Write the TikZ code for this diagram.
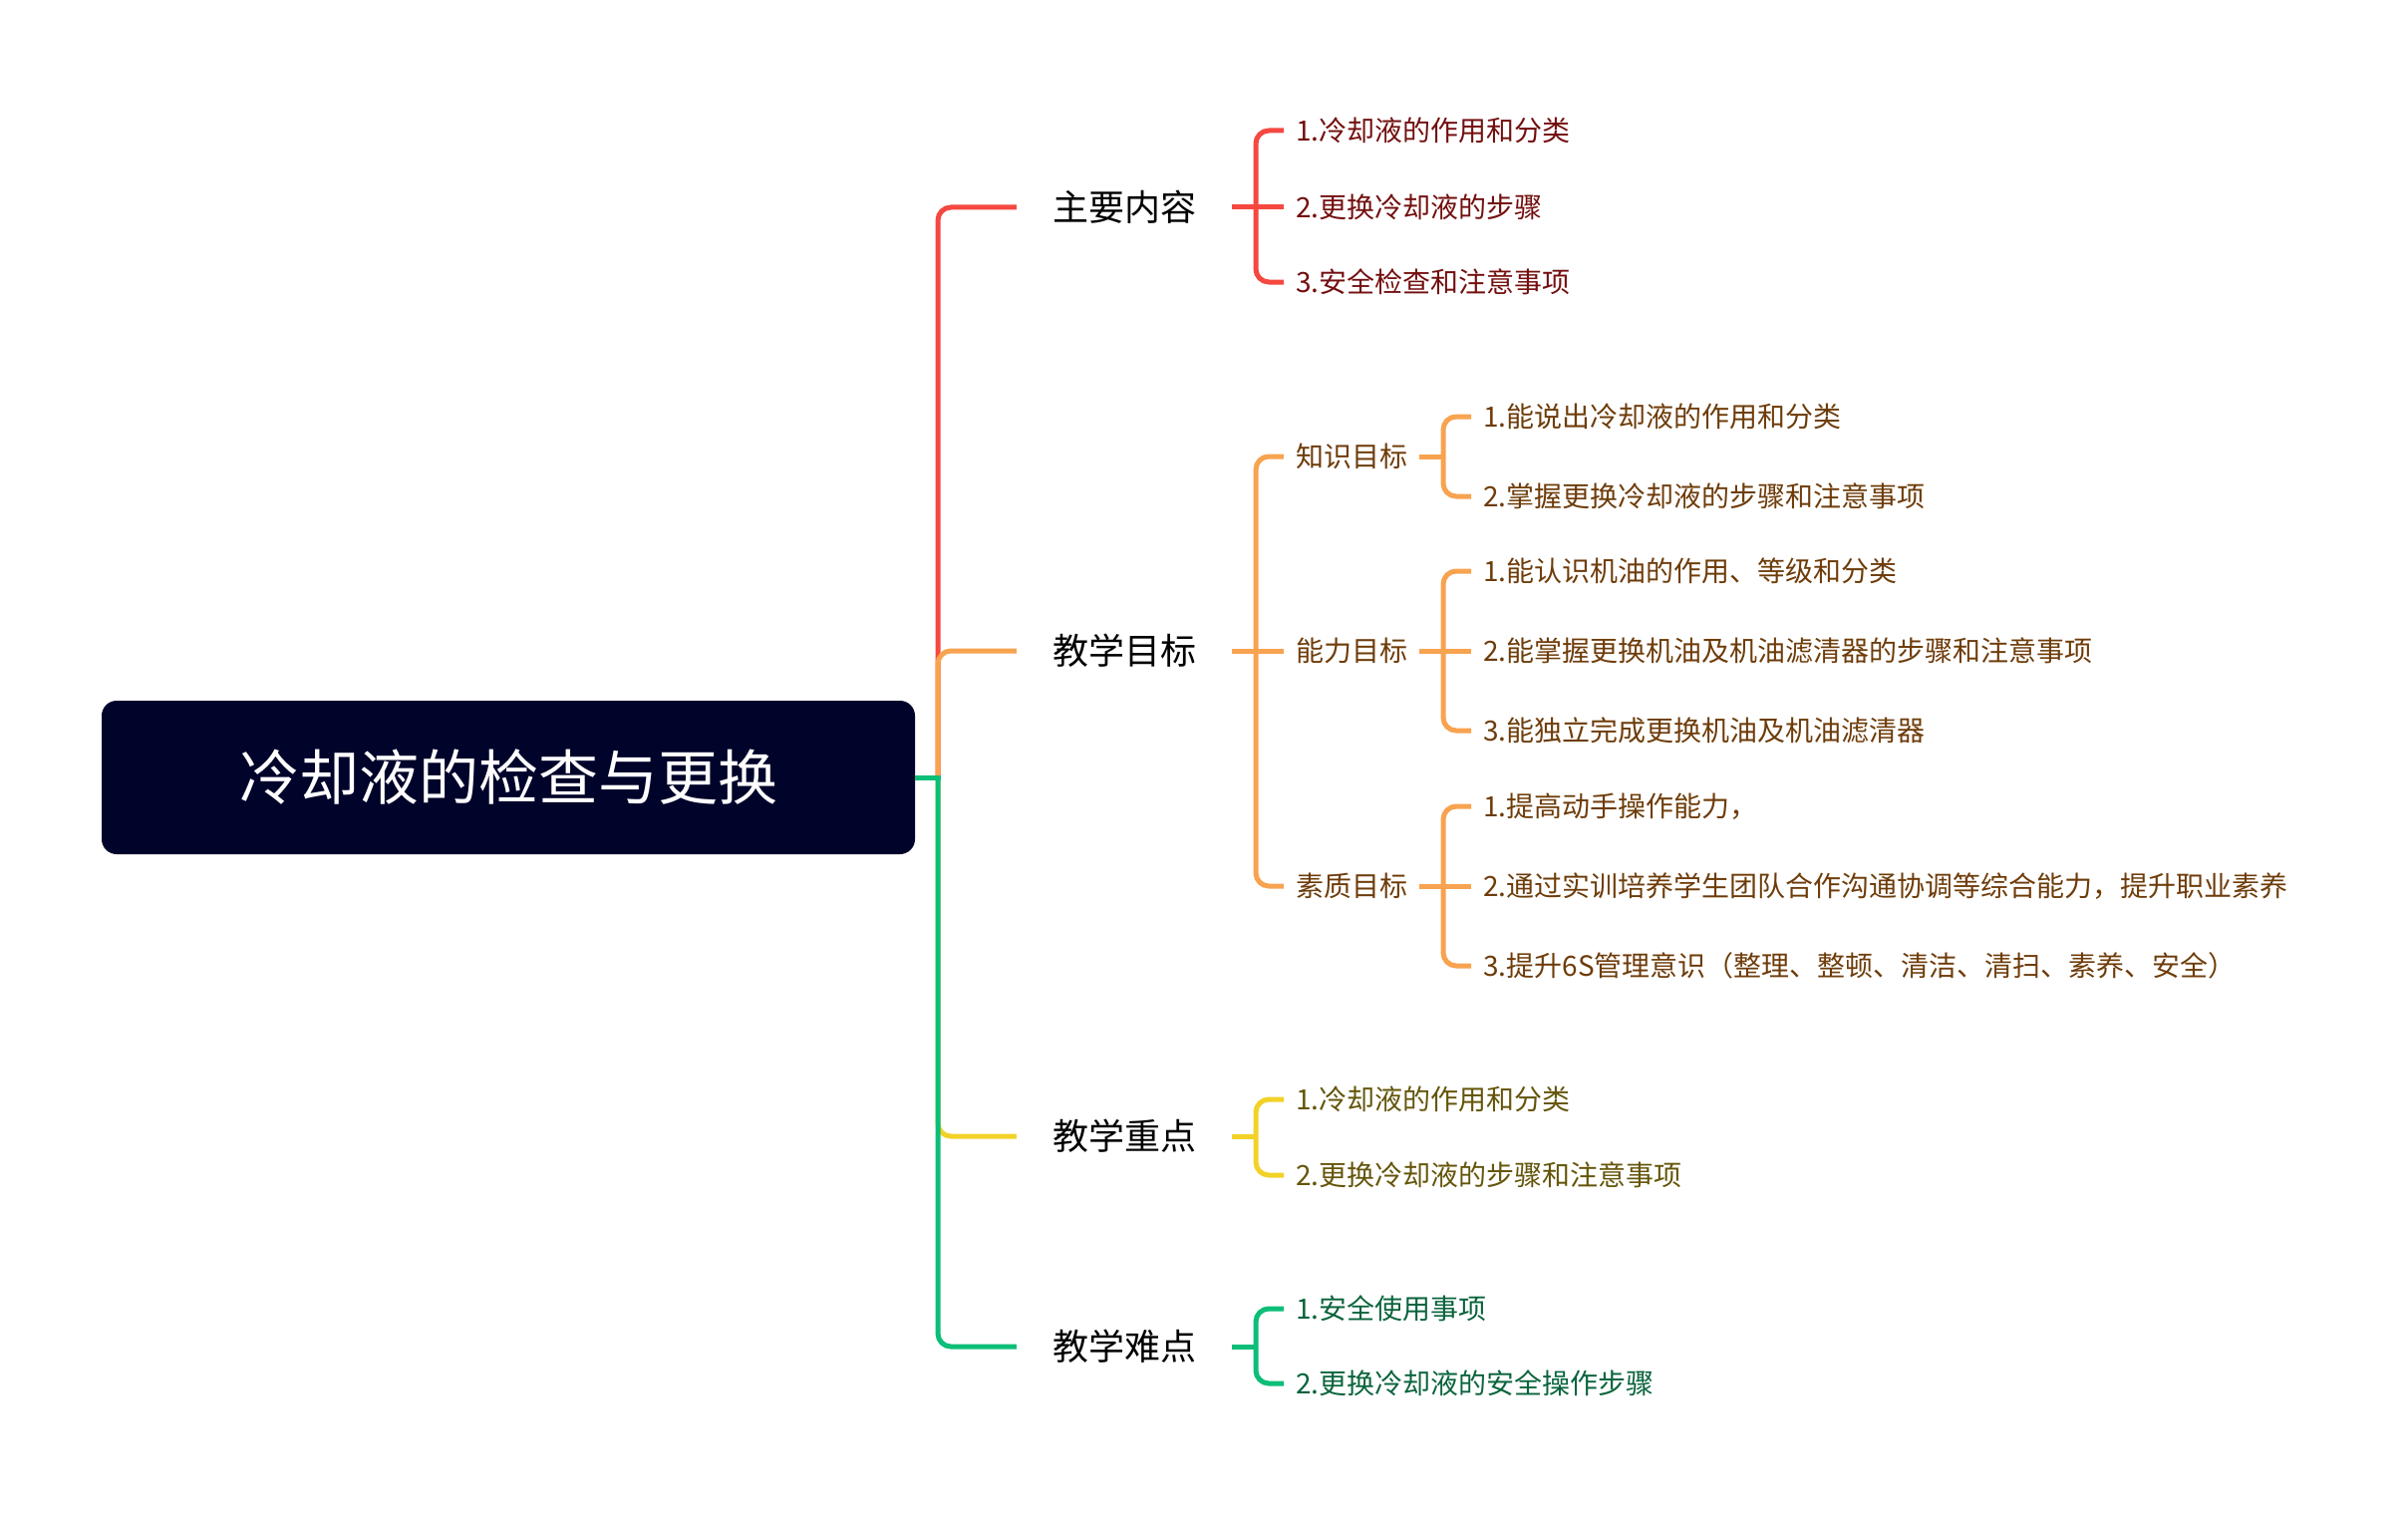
\documentclass[tikz,border=0pt]{standalone}
\usepackage{fontspec}
\setmainfont{Noto Sans CJK SC}
\definecolor{rootc}{RGB}{0,3,42}
\definecolor{redl}{RGB}{245,72,64}
\definecolor{orgl}{RGB}{247,163,80}
\definecolor{yell}{RGB}{242,210,40}
\definecolor{grnl}{RGB}{12,190,120}
\definecolor{redt}{RGB}{115,15,15}
\definecolor{orgt}{RGB}{110,60,10}
\definecolor{yelt}{RGB}{100,85,10}
\definecolor{grnt}{RGB}{10,100,60}
\tikzset{
  conn/.style={line width=5pt,line cap=butt},
  curved/.style={conn,rounded corners=13pt},
  rootbox/.style={rectangle,rounded corners=15pt,fill=rootc,text=white,minimum width=816pt,minimum height=154pt,inner sep=0pt,font=\fontsize{60}{70}\selectfont},
  branch/.style={minimum width=216pt,inner sep=0pt,font=\fontsize{36}{42}\selectfont,text=black},
  sublab/.style={minimum width=136pt,inner sep=0pt,font=\fontsize{28}{34}\selectfont},
  leaf/.style={anchor=west,inner xsep=12pt,inner ysep=0pt,font=\fontsize{28}{34}\selectfont},
}
\begin{document}
\begin{tikzpicture}[x=1pt,y=-1pt]
\useasboundingbox (0,0) rectangle (2416,1522);
\node[rootbox] (root) at (510,780) {冷却液的检查与更换};
\coordinate (J) at (941,780);
% branches
\node[branch] (b1) at (1128,208) {主要内容};
\node[branch] (b2) at (1128,653) {教学目标};
\node[branch] (b3) at (1128,1140) {教学重点};
\node[branch] (b4) at (1128,1351) {教学难点};
% branch 1
\node[leaf,text=redt] (l11) at (1288,131) {1.冷却液的作用和分类};
\node[leaf,text=redt] (l12) at (1288,208) {2.更换冷却液的步骤};
\node[leaf,text=redt] (l13) at (1288,283) {3.安全检查和注意事项};
% branch 2 sublabels
\node[sublab,text=orgt] (s1) at (1356,458) {知识目标};
\node[sublab,text=orgt] (s2) at (1356,653) {能力目标};
\node[sublab,text=orgt] (s3) at (1356,889) {素质目标};
\node[leaf,text=orgt] (l211) at (1476,418) {1.能说出冷却液的作用和分类};
\node[leaf,text=orgt] (l212) at (1476,498) {2.掌握更换冷却液的步骤和注意事项};
\node[leaf,text=orgt] (l221) at (1476,573) {1.能认识机油的作用、等级和分类};
\node[leaf,text=orgt] (l222) at (1476,653) {2.能掌握更换机油及机油滤清器的步骤和注意事项};
\node[leaf,text=orgt] (l223) at (1476,733) {3.能独立完成更换机油及机油滤清器};
\node[leaf,text=orgt] (l231) at (1476,809) {1.提高动手操作能力，};
\node[leaf,text=orgt] (l232) at (1476,889) {2.通过实训培养学生团队合作沟通协调等综合能力，提升职业素养};
\node[leaf,text=orgt] (l233) at (1476,969) {3.提升6S管理意识（整理、整顿、清洁、清扫、素养、安全）};
% branch 3
\node[leaf,text=yelt] (l31) at (1288,1103) {1.冷却液的作用和分类};
\node[leaf,text=yelt] (l32) at (1288,1179) {2.更换冷却液的步骤和注意事项};
% branch 4
\node[leaf,text=grnt] (l41) at (1288,1313) {1.安全使用事项};
\node[leaf,text=grnt] (l42) at (1288,1388) {2.更换冷却液的安全操作步骤};
% junction coordinates
\coordinate (K1) at (1260,208);
\coordinate (K2) at (1260,653);
\coordinate (K3) at (1260,1140);
\coordinate (K4) at (1260,1351);
\coordinate (M1) at (1448,458);
\coordinate (M2) at (1448,653);
\coordinate (M3) at (1448,889);
% trunk lines
\draw[curved,redl] (J) |- (b1.west);
\draw[curved,orgl] (J) |- (b2.west);
\draw[curved,yell] (J) |- (b3.west);
\draw[curved,grnl] (J) |- (b4.west);
\draw[conn,grnl] (root.east) -- ([xshift=2.5pt]J);
% branch 1 bracket
\draw[conn,redl] (b1.east) -- (K1);
\draw[curved,redl] (K1) |- (l11.west);
\draw[conn,redl] (K1) -- (l12.west);
\draw[curved,redl] (K1) |- (l13.west);
% branch 2 bracket
\draw[conn,orgl] (b2.east) -- (K2);
\draw[curved,orgl] (K2) |- (s1.west);
\draw[conn,orgl] (K2) -- (s2.west);
\draw[curved,orgl] (K2) |- (s3.west);
\draw[conn,orgl] (s1.east) -- (M1);
\draw[curved,orgl] (M1) |- (l211.west);
\draw[curved,orgl] (M1) |- (l212.west);
\draw[conn,orgl] (s2.east) -- (M2);
\draw[curved,orgl] (M2) |- (l221.west);
\draw[conn,orgl] (M2) -- (l222.west);
\draw[curved,orgl] (M2) |- (l223.west);
\draw[conn,orgl] (s3.east) -- (M3);
\draw[curved,orgl] (M3) |- (l231.west);
\draw[conn,orgl] (M3) -- (l232.west);
\draw[curved,orgl] (M3) |- (l233.west);
% branch 3 bracket
\draw[conn,yell] (b3.east) -- (K3);
\draw[curved,yell] (K3) |- (l31.west);
\draw[curved,yell] (K3) |- (l32.west);
% branch 4 bracket
\draw[conn,grnl] (b4.east) -- (K4);
\draw[curved,grnl] (K4) |- (l41.west);
\draw[curved,grnl] (K4) |- (l42.west);
\end{tikzpicture}
\end{document}
